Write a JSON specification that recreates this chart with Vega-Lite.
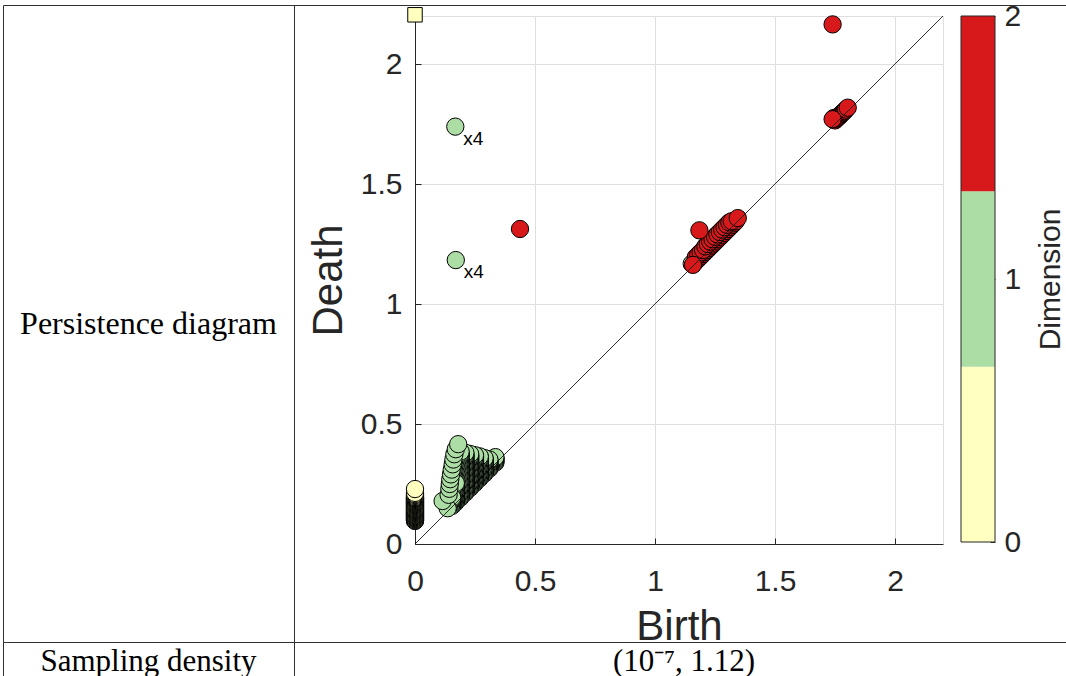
{
  "$schema": "https://vega.github.io/schema/vega-lite/v6.json",
  "padding": {"left": 2, "top": 0, "right": 0, "bottom": 0},
  "background": "white",
  "columns": 2,
  "spacing": 0,
  "bounds": "flush",
  "config": {
    "view": {"stroke": "#303030", "strokeWidth": 1},
    "axis": {
      "labelFont": "Liberation Sans", "labelFontSize": 30, "labelColor": "#262626",
      "titleFont": "Liberation Sans", "titleFontWeight": "normal", "titleColor": "#262626",
      "domainColor": "#262626", "domainWidth": 1, "tickColor": "#262626", "tickWidth": 1,
      "gridColor": "#dfdfdf", "gridOpacity": 1, "gridWidth": 1,
      "labelFlush": false, "labelOverlap": false, "labelBound": false
    }
  },
  "datasets": {
    "pts": [
      {"b":0,"d":0.096,"k":0},{"b":0,"d":0.098,"k":0},{"b":0,"d":0.100,"k":0},{"b":0,"d":0.102,"k":0},{"b":0,"d":0.104,"k":0},
      {"b":0,"d":0.106,"k":0},{"b":0,"d":0.108,"k":0},{"b":0,"d":0.110,"k":0},{"b":0,"d":0.112,"k":0},{"b":0,"d":0.114,"k":0},
      {"b":0,"d":0.116,"k":0},{"b":0,"d":0.118,"k":0},{"b":0,"d":0.120,"k":0},{"b":0,"d":0.122,"k":0},{"b":0,"d":0.124,"k":0},
      {"b":0,"d":0.126,"k":0},{"b":0,"d":0.128,"k":0},{"b":0,"d":0.130,"k":0},{"b":0,"d":0.132,"k":0},{"b":0,"d":0.134,"k":0},
      {"b":0,"d":0.136,"k":0},{"b":0,"d":0.138,"k":0},{"b":0,"d":0.140,"k":0},{"b":0,"d":0.142,"k":0},{"b":0,"d":0.144,"k":0},
      {"b":0,"d":0.146,"k":0},{"b":0,"d":0.148,"k":0},{"b":0,"d":0.150,"k":0},{"b":0,"d":0.152,"k":0},{"b":0,"d":0.154,"k":0},
      {"b":0,"d":0.156,"k":0},{"b":0,"d":0.158,"k":0},{"b":0,"d":0.160,"k":0},{"b":0,"d":0.162,"k":0},{"b":0,"d":0.164,"k":0},
      {"b":0,"d":0.166,"k":0},{"b":0,"d":0.168,"k":0},{"b":0,"d":0.170,"k":0},{"b":0,"d":0.172,"k":0},{"b":0,"d":0.174,"k":0},
      {"b":0,"d":0.176,"k":0},{"b":0,"d":0.178,"k":0},{"b":0,"d":0.180,"k":0},{"b":0,"d":0.182,"k":0},{"b":0,"d":0.184,"k":0},
      {"b":0,"d":0.186,"k":0},{"b":0,"d":0.188,"k":0},{"b":0,"d":0.190,"k":0},{"b":0,"d":0.192,"k":0},{"b":0,"d":0.194,"k":0},
      {"b":0,"d":0.196,"k":0},{"b":0,"d":0.200,"k":0},{"b":0,"d":0.204,"k":0},{"b":0,"d":0.208,"k":0},{"b":0,"d":0.213,"k":0},
      {"b":0,"d":0.229,"k":0},

      {"b":0.168,"d":1.739,"k":1},{"b":0.17,"d":1.183,"k":1},{"b":1.153,"d":1.168,"k":1},

      {"b":0.335,"d":0.339,"k":1},{"b":0.335,"d":0.344,"k":1},{"b":0.335,"d":0.349,"k":1},{"b":0.335,"d":0.354,"k":1},{"b":0.335,"d":0.358,"k":1},{"b":0.335,"d":0.362,"k":1},

      {"b":0.31,"d":0.314,"k":1},{"b":0.31,"d":0.319,"k":1},{"b":0.31,"d":0.324,"k":1},{"b":0.31,"d":0.329,"k":1},{"b":0.31,"d":0.334,"k":1},
      {"b":0.31,"d":0.339,"k":1},{"b":0.31,"d":0.344,"k":1},{"b":0.31,"d":0.348,"k":1},{"b":0.31,"d":0.352,"k":1},

      {"b":0.29,"d":0.294,"k":1},{"b":0.29,"d":0.299,"k":1},{"b":0.29,"d":0.304,"k":1},{"b":0.29,"d":0.309,"k":1},{"b":0.29,"d":0.314,"k":1},
      {"b":0.29,"d":0.319,"k":1},{"b":0.29,"d":0.324,"k":1},{"b":0.29,"d":0.329,"k":1},{"b":0.29,"d":0.334,"k":1},{"b":0.29,"d":0.339,"k":1},
      {"b":0.29,"d":0.344,"k":1},{"b":0.29,"d":0.349,"k":1},{"b":0.29,"d":0.354,"k":1},{"b":0.29,"d":0.358,"k":1},

      {"b":0.27,"d":0.274,"k":1},{"b":0.27,"d":0.279,"k":1},{"b":0.27,"d":0.284,"k":1},{"b":0.27,"d":0.289,"k":1},{"b":0.27,"d":0.294,"k":1},
      {"b":0.27,"d":0.299,"k":1},{"b":0.27,"d":0.304,"k":1},{"b":0.27,"d":0.309,"k":1},{"b":0.27,"d":0.314,"k":1},{"b":0.27,"d":0.319,"k":1},
      {"b":0.27,"d":0.324,"k":1},{"b":0.27,"d":0.329,"k":1},{"b":0.27,"d":0.334,"k":1},{"b":0.27,"d":0.339,"k":1},{"b":0.27,"d":0.344,"k":1},
      {"b":0.27,"d":0.349,"k":1},{"b":0.27,"d":0.354,"k":1},{"b":0.27,"d":0.359,"k":1},{"b":0.27,"d":0.365,"k":1},

      {"b":0.25,"d":0.254,"k":1},{"b":0.25,"d":0.259,"k":1},{"b":0.25,"d":0.264,"k":1},{"b":0.25,"d":0.269,"k":1},{"b":0.25,"d":0.274,"k":1},
      {"b":0.25,"d":0.279,"k":1},{"b":0.25,"d":0.284,"k":1},{"b":0.25,"d":0.289,"k":1},{"b":0.25,"d":0.294,"k":1},{"b":0.25,"d":0.299,"k":1},
      {"b":0.25,"d":0.304,"k":1},{"b":0.25,"d":0.309,"k":1},{"b":0.25,"d":0.314,"k":1},{"b":0.25,"d":0.319,"k":1},{"b":0.25,"d":0.324,"k":1},
      {"b":0.25,"d":0.329,"k":1},{"b":0.25,"d":0.334,"k":1},{"b":0.25,"d":0.339,"k":1},{"b":0.25,"d":0.344,"k":1},{"b":0.25,"d":0.349,"k":1},
      {"b":0.25,"d":0.354,"k":1},{"b":0.25,"d":0.359,"k":1},{"b":0.25,"d":0.364,"k":1},{"b":0.25,"d":0.370,"k":1},

      {"b":0.23,"d":0.234,"k":1},{"b":0.23,"d":0.239,"k":1},{"b":0.23,"d":0.244,"k":1},{"b":0.23,"d":0.249,"k":1},{"b":0.23,"d":0.254,"k":1},
      {"b":0.23,"d":0.259,"k":1},{"b":0.23,"d":0.264,"k":1},{"b":0.23,"d":0.269,"k":1},{"b":0.23,"d":0.274,"k":1},{"b":0.23,"d":0.279,"k":1},
      {"b":0.23,"d":0.284,"k":1},{"b":0.23,"d":0.289,"k":1},{"b":0.23,"d":0.294,"k":1},{"b":0.23,"d":0.299,"k":1},{"b":0.23,"d":0.304,"k":1},
      {"b":0.23,"d":0.309,"k":1},{"b":0.23,"d":0.314,"k":1},{"b":0.23,"d":0.319,"k":1},{"b":0.23,"d":0.324,"k":1},{"b":0.23,"d":0.329,"k":1},
      {"b":0.23,"d":0.334,"k":1},{"b":0.23,"d":0.339,"k":1},{"b":0.23,"d":0.344,"k":1},{"b":0.23,"d":0.349,"k":1},{"b":0.23,"d":0.354,"k":1},
      {"b":0.23,"d":0.359,"k":1},{"b":0.23,"d":0.364,"k":1},{"b":0.23,"d":0.369,"k":1},{"b":0.23,"d":0.375,"k":1},

      {"b":0.21,"d":0.214,"k":1},{"b":0.21,"d":0.219,"k":1},{"b":0.21,"d":0.224,"k":1},{"b":0.21,"d":0.229,"k":1},{"b":0.21,"d":0.234,"k":1},
      {"b":0.21,"d":0.239,"k":1},{"b":0.21,"d":0.244,"k":1},{"b":0.21,"d":0.249,"k":1},{"b":0.21,"d":0.254,"k":1},{"b":0.21,"d":0.259,"k":1},
      {"b":0.21,"d":0.264,"k":1},{"b":0.21,"d":0.269,"k":1},{"b":0.21,"d":0.274,"k":1},{"b":0.21,"d":0.279,"k":1},{"b":0.21,"d":0.284,"k":1},
      {"b":0.21,"d":0.289,"k":1},{"b":0.21,"d":0.294,"k":1},{"b":0.21,"d":0.299,"k":1},{"b":0.21,"d":0.304,"k":1},{"b":0.21,"d":0.309,"k":1},
      {"b":0.21,"d":0.314,"k":1},{"b":0.21,"d":0.319,"k":1},{"b":0.21,"d":0.324,"k":1},{"b":0.21,"d":0.329,"k":1},{"b":0.21,"d":0.334,"k":1},
      {"b":0.21,"d":0.339,"k":1},{"b":0.21,"d":0.344,"k":1},{"b":0.21,"d":0.349,"k":1},{"b":0.21,"d":0.354,"k":1},{"b":0.21,"d":0.359,"k":1},
      {"b":0.21,"d":0.364,"k":1},{"b":0.21,"d":0.369,"k":1},{"b":0.21,"d":0.374,"k":1},{"b":0.21,"d":0.380,"k":1},

      {"b":0.19,"d":0.194,"k":1},{"b":0.19,"d":0.199,"k":1},{"b":0.19,"d":0.204,"k":1},{"b":0.19,"d":0.209,"k":1},{"b":0.19,"d":0.214,"k":1},
      {"b":0.19,"d":0.219,"k":1},{"b":0.19,"d":0.224,"k":1},{"b":0.19,"d":0.229,"k":1},{"b":0.19,"d":0.234,"k":1},{"b":0.19,"d":0.239,"k":1},
      {"b":0.19,"d":0.244,"k":1},{"b":0.19,"d":0.249,"k":1},{"b":0.19,"d":0.254,"k":1},{"b":0.19,"d":0.259,"k":1},{"b":0.19,"d":0.264,"k":1},
      {"b":0.19,"d":0.269,"k":1},{"b":0.19,"d":0.274,"k":1},{"b":0.19,"d":0.279,"k":1},{"b":0.19,"d":0.284,"k":1},{"b":0.19,"d":0.289,"k":1},
      {"b":0.19,"d":0.294,"k":1},{"b":0.19,"d":0.299,"k":1},{"b":0.19,"d":0.304,"k":1},{"b":0.19,"d":0.309,"k":1},{"b":0.19,"d":0.314,"k":1},
      {"b":0.19,"d":0.319,"k":1},{"b":0.19,"d":0.324,"k":1},{"b":0.19,"d":0.329,"k":1},{"b":0.19,"d":0.334,"k":1},{"b":0.19,"d":0.339,"k":1},
      {"b":0.19,"d":0.344,"k":1},{"b":0.19,"d":0.349,"k":1},{"b":0.19,"d":0.354,"k":1},{"b":0.19,"d":0.359,"k":1},{"b":0.19,"d":0.364,"k":1},
      {"b":0.19,"d":0.369,"k":1},{"b":0.19,"d":0.374,"k":1},{"b":0.19,"d":0.379,"k":1},{"b":0.19,"d":0.385,"k":1},

      {"b":0.17,"d":0.174,"k":1},{"b":0.17,"d":0.179,"k":1},{"b":0.17,"d":0.184,"k":1},{"b":0.17,"d":0.189,"k":1},{"b":0.17,"d":0.194,"k":1},
      {"b":0.17,"d":0.199,"k":1},{"b":0.17,"d":0.204,"k":1},{"b":0.17,"d":0.209,"k":1},{"b":0.17,"d":0.214,"k":1},{"b":0.17,"d":0.219,"k":1},
      {"b":0.17,"d":0.224,"k":1},{"b":0.17,"d":0.229,"k":1},{"b":0.17,"d":0.234,"k":1},{"b":0.17,"d":0.239,"k":1},{"b":0.17,"d":0.244,"k":1},
      {"b":0.17,"d":0.249,"k":1},{"b":0.17,"d":0.254,"k":1},

      {"b":0.155,"d":0.159,"k":1},{"b":0.155,"d":0.164,"k":1},{"b":0.155,"d":0.169,"k":1},{"b":0.155,"d":0.174,"k":1},{"b":0.155,"d":0.179,"k":1},
      {"b":0.155,"d":0.184,"k":1},{"b":0.155,"d":0.189,"k":1},{"b":0.155,"d":0.194,"k":1},

      {"b":0.136,"d":0.149,"k":1},{"b":0.115,"d":0.179,"k":1},{"b":0.14,"d":0.205,"k":1},{"b":0.143,"d":0.23,"k":1},{"b":0.145,"d":0.25,"k":1},
      {"b":0.147,"d":0.27,"k":1},{"b":0.15,"d":0.29,"k":1},{"b":0.153,"d":0.31,"k":1},{"b":0.157,"d":0.332,"k":1},{"b":0.16,"d":0.352,"k":1},
      {"b":0.164,"d":0.374,"k":1},{"b":0.17,"d":0.395,"k":1},{"b":0.18,"d":0.416,"k":1},

      {"b":0.4375,"d":1.3125,"k":2},{"b":1.74,"d":2.165,"k":2},
      {"b":1.168,"d":1.176,"k":2},{"b":1.176,"d":1.184,"k":2},{"b":1.184,"d":1.192,"k":2},{"b":1.192,"d":1.2,"k":2},{"b":1.2,"d":1.208,"k":2},
      {"b":1.208,"d":1.216,"k":2},{"b":1.216,"d":1.224,"k":2},{"b":1.224,"d":1.232,"k":2},{"b":1.232,"d":1.24,"k":2},{"b":1.24,"d":1.248,"k":2},
      {"b":1.248,"d":1.256,"k":2},{"b":1.256,"d":1.264,"k":2},{"b":1.264,"d":1.272,"k":2},{"b":1.272,"d":1.28,"k":2},{"b":1.28,"d":1.288,"k":2},
      {"b":1.288,"d":1.296,"k":2},{"b":1.296,"d":1.304,"k":2},{"b":1.304,"d":1.312,"k":2},{"b":1.312,"d":1.32,"k":2},{"b":1.32,"d":1.328,"k":2},
      {"b":1.328,"d":1.336,"k":2},{"b":1.336,"d":1.344,"k":2},
      {"b":1.17,"d":1.195,"k":2},{"b":1.18,"d":1.205,"k":2},{"b":1.19,"d":1.215,"k":2},{"b":1.2,"d":1.225,"k":2},{"b":1.21,"d":1.24,"k":2},
      {"b":1.22,"d":1.25,"k":2},{"b":1.23,"d":1.26,"k":2},{"b":1.24,"d":1.27,"k":2},{"b":1.25,"d":1.28,"k":2},{"b":1.26,"d":1.29,"k":2},
      {"b":1.27,"d":1.3,"k":2},{"b":1.28,"d":1.31,"k":2},{"b":1.29,"d":1.32,"k":2},{"b":1.3,"d":1.33,"k":2},{"b":1.31,"d":1.34,"k":2},
      {"b":1.32,"d":1.345,"k":2},{"b":1.345,"d":1.358,"k":2},{"b":1.158,"d":1.163,"k":2},{"b":1.185,"d":1.307,"k":2},
      {"b":1.745,"d":1.775,"k":2},{"b":1.75,"d":1.765,"k":2},{"b":1.755,"d":1.772,"k":2},{"b":1.76,"d":1.775,"k":2},{"b":1.765,"d":1.78,"k":2},
      {"b":1.77,"d":1.784,"k":2},{"b":1.775,"d":1.79,"k":2},{"b":1.78,"d":1.795,"k":2},{"b":1.785,"d":1.8,"k":2},{"b":1.79,"d":1.804,"k":2},
      {"b":1.795,"d":1.81,"k":2},{"b":1.803,"d":1.818,"k":2},{"b":1.74,"d":1.77,"k":2}
    ]
  },
  "concat": [
    {
      "width": 291, "height": 637,
      "view": {"stroke": "#303030", "strokeWidth": 1},
      "data": {"values": [{"t": "Persistence diagram"}]},
      "mark": {"type": "text", "font": "Liberation Serif", "fontSize": 32, "color": "black"},
      "encoding": {"text": {"field": "t"}}
    },
    {
      "width": 780, "height": 637,
      "view": {"stroke": "#303030", "strokeWidth": 1},
      "resolve": {"scale": {"x": "independent", "y": "independent"}},
      "layer": [
        {
          "data": {"name": "pts"},
          "mark": {"type": "point", "filled": true, "size": 300, "stroke": "black", "strokeWidth": 1, "opacity": 1, "clip": false},
          "encoding": {
            "x": {"field": "b", "type": "quantitative",
              "scale": {"domain": [0, 2.2], "range": [121, 649], "nice": false, "zero": false},
              "axis": {"orient": "bottom", "values": [0, 0.5, 1, 1.5, 2], "format": "~g", "grid": false, "offset": -98,
                "tickSize": -6, "labelPadding": 28, "labelOverlap": false, "title": "Birth", "titleFontSize": 42, "titlePadding": 10}},
            "y": {"field": "d", "type": "quantitative",
              "scale": {"domain": [0, 2.2], "range": [539, 11], "nice": false, "zero": false},
              "axis": {"orient": "left", "values": [0, 0.5, 1, 1.5, 2, 2.2], "format": "~g",
                "labelExpr": "datum.value > 2.1 ? '' : datum.label",
                "grid": true, "offset": -121, "tickSize": -6, "labelPadding": 19, "labelOverlap": false,
                "tickColor": {"condition": {"test": "datum.value > 2.1", "value": "transparent"}, "value": "#262626"},
                "title": "Death", "titleFontSize": 42, "titlePadding": 10}},
            "color": {"field": "k", "type": "nominal",
              "scale": {"domain": [0, 1, 2], "range": ["#ffffbf", "#abdda4", "#d7191c"]}, "legend": null}
          }
        },
        {
          "data": {"values": [{"b": 0, "d": 2.205}]},
          "mark": {"type": "square", "filled": true, "size": 210, "fill": "#ffffbf", "stroke": "black", "strokeWidth": 1, "opacity": 1, "clip": false},
          "encoding": {
            "x": {"field": "b", "type": "quantitative", "scale": {"domain": [0, 2.2], "range": [121, 649], "nice": false, "zero": false}, "axis": null},
            "y": {"field": "d", "type": "quantitative", "scale": {"domain": [0, 2.2], "range": [539, 11], "nice": false, "zero": false}, "axis": null}
          }
        },
        {
          "data": {"values": [{}]},
          "mark": {"type": "rule", "color": "black", "strokeWidth": 0.8},
          "encoding": {
            "x": {"datum": 0, "type": "quantitative",
              "scale": {"domain": [0, 2.2], "range": [121, 649], "nice": false, "zero": false},
              "axis": {"orient": "top", "values": [0.5, 1, 1.5, 2, 2.2], "grid": true, "domain": false, "ticks": false, "labels": false, "title": null}},
            "x2": {"datum": 2.2},
            "y": {"datum": 0, "type": "quantitative", "scale": {"domain": [0, 2.2], "range": [539, 11], "nice": false, "zero": false}, "axis": null},
            "y2": {"datum": 2.2}
          }
        },
        {
          "data": {"values": [{"b": 0.168, "d": 1.739, "t": "x4"}, {"b": 0.17, "d": 1.183, "t": "x4"}]},
          "mark": {"type": "text", "align": "left", "baseline": "alphabetic", "dx": 8, "dy": 18, "font": "Liberation Sans", "fontSize": 19, "color": "black"},
          "encoding": {
            "x": {"field": "b", "type": "quantitative", "scale": {"domain": [0, 2.2], "range": [121, 649], "nice": false, "zero": false}, "axis": null},
            "y": {"field": "d", "type": "quantitative", "scale": {"domain": [0, 2.2], "range": [539, 11], "nice": false, "zero": false}, "axis": null},
            "text": {"field": "t"}
          }
        },
        {
          "data": {"values": [{"k": 0, "lo": 0, "hi": 0.6667}, {"k": 1, "lo": 0.6667, "hi": 1.3333}, {"k": 2, "lo": 1.3333, "hi": 2}]},
          "mark": {"type": "rect"},
          "encoding": {
            "x": {"datum": 0, "type": "quantitative", "scale": {"domain": [0, 1], "range": [667, 701], "nice": false, "zero": false}, "axis": null},
            "x2": {"datum": 1},
            "y": {"field": "lo", "type": "quantitative", "scale": {"domain": [0, 2], "range": [537, 11], "nice": false, "zero": false},
              "axis": {"orient": "right", "offset": -79, "values": [0, 1, 2], "format": "~g", "tickCount": 10, "tickMinStep": 0.1,
                "grid": false, "domain": false,
                "tickSize": -5, "labelPadding": 14, "labelOverlap": false, "labelFlush": false,
                "title": "Dimension", "titleFontSize": 30, "titleAngle": 270,
                "titleBaseline": "top", "titlePadding": 15}},
            "y2": {"field": "hi"},
            "color": {"field": "k", "type": "nominal",
              "scale": {"domain": [0, 1, 2], "range": ["#ffffbf", "#abdda4", "#d7191c"]}, "legend": null}
          }
        },
        {
          "data": {"values": [{}]},
          "mark": {"type": "rect", "filled": false, "fill": null, "stroke": "#262626", "strokeWidth": 1},
          "encoding": {
            "x": {"datum": 0, "type": "quantitative", "scale": {"domain": [0, 1], "range": [667, 701], "nice": false, "zero": false}, "axis": null},
            "x2": {"datum": 1},
            "y": {"datum": 0, "type": "quantitative", "scale": {"domain": [0, 2], "range": [537, 11], "nice": false, "zero": false}, "axis": null},
            "y2": {"datum": 2}
          }
        }
      ]
    },
    {
      "width": 291, "height": 40,
      "view": {"stroke": "#303030", "strokeWidth": 1},
      "data": {"values": [{"t": "Sampling density"}]},
      "mark": {"type": "text", "font": "Liberation Serif", "fontSize": 31, "color": "black"},
      "encoding": {"text": {"field": "t"}}
    },
    {
      "width": 780, "height": 40,
      "view": {"stroke": "#303030", "strokeWidth": 1},
      "data": {"values": [{"t": "(10⁻⁷, 1.12)"}]},
      "mark": {"type": "text", "font": "Liberation Serif", "fontSize": 31, "color": "black"},
      "encoding": {"text": {"field": "t"}}
    }
  ]
}
